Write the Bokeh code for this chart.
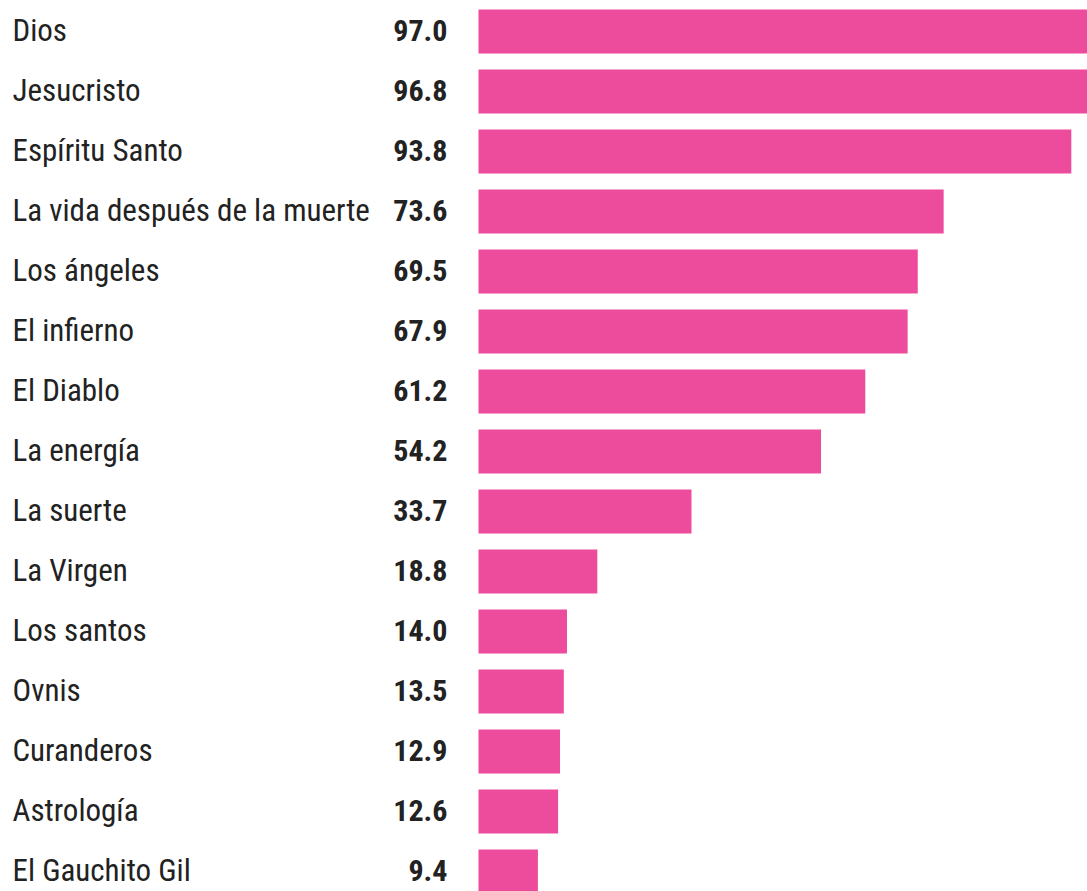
from bokeh.plotting import figure
from bokeh.models import ColumnDataSource, Range1d
from bokeh.core.properties import value
from bokeh.embed import file_html
from bokeh.resources import INLINE

categories = ["Dios", "Jesucristo", "Espíritu Santo", "La vida después de la muerte",
              "Los ángeles", "El infierno", "El Diablo", "La energía", "La suerte",
              "La Virgen", "Los santos", "Ovnis", "Curanderos", "Astrología",
              "El Gauchito Gil"]
values = [97.0, 96.8, 93.8, 73.6, 69.5, 67.9, 61.2, 54.2, 33.7, 18.8, 14.0, 13.5, 12.9, 12.6, 9.4]
value_labels = ["%.1f" % v for v in values]

W, H = 1087, 891
scale = 6.32          # px per unit
zero_px = 478         # frame px of x=0
pitch = 60
first_center = 31

x_start = -zero_px / scale
x_end = (W - zero_px) / scale
y_top = -first_center / pitch
y_bottom = y_top + H / pitch

src = ColumnDataSource(dict(
    y=list(range(len(categories))),
    cat=categories,
    val=values,
    lab=value_labels,
    zero=[0] * len(values),
    left=[x_start] * len(values),
))

p = figure(width=W, height=H, output_backend="svg", toolbar_location=None,
           x_range=Range1d(x_start, x_end), y_range=Range1d(y_bottom, y_top),
           min_border=0, min_border_left=0, min_border_right=0,
           min_border_top=0, min_border_bottom=0)
p.axis.visible = False
p.grid.visible = False
p.outline_line_color = None
p.background_fill_color = "white"
p.border_fill_color = "white"

p.hbar(y="y", left="zero", right="val", height=44 / pitch, source=src,
       fill_color="#ED4B9C", line_color=None)

p.text(x="left", y="y", text="cat", source=src, x_offset=12, y_offset=-1,
       text_font=value("Roboto Condensed"), text_font_size="31px",
       text_color="#222222", text_align="left", text_baseline="alphabetic")

p.text(x="zero", y="y", text="lab", source=src, x_offset=-31, y_offset=-1,
       text_font=value("Roboto Condensed"), text_font_style="bold",
       text_font_size="30px", text_color="#222222", text_align="right",
       text_baseline="alphabetic")

open("out.html", "w").write(file_html(p, INLINE))
